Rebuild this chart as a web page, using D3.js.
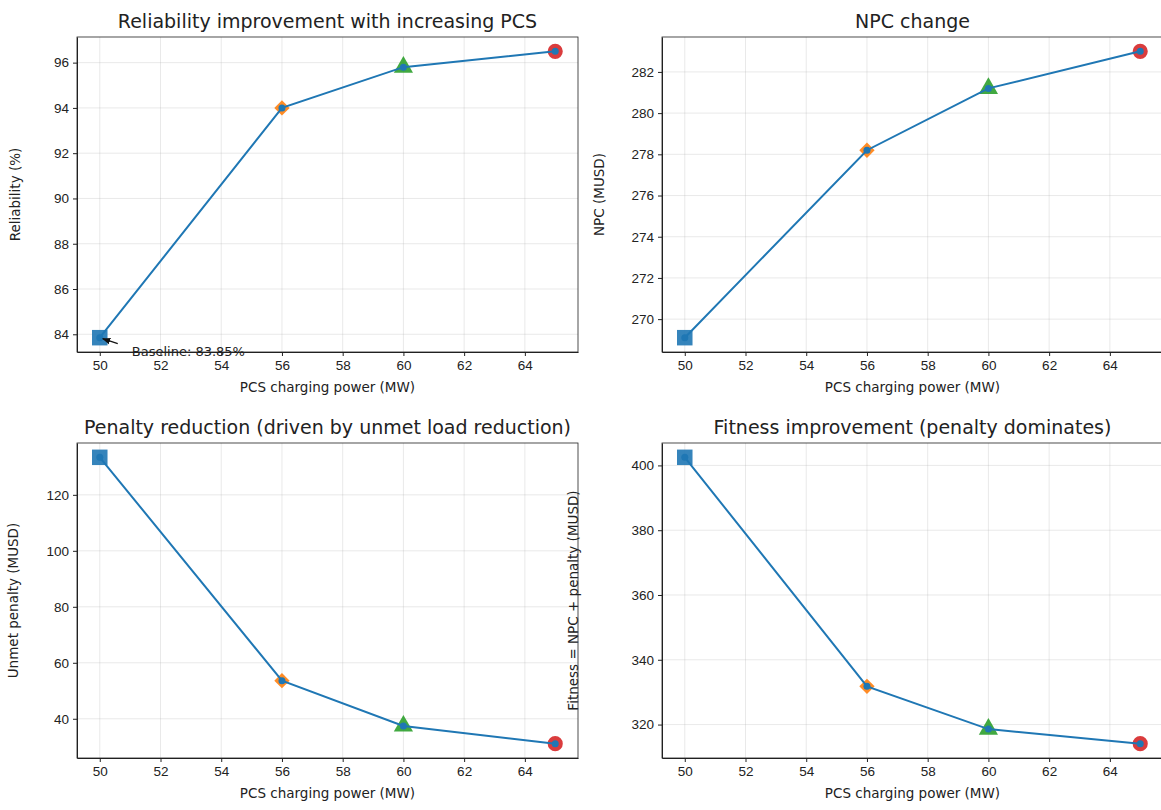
<!DOCTYPE html>
<html>
<head>
<meta charset="utf-8">
<script src="https://cdn.jsdelivr.net/npm/d3@7"></script>
<style>
  body { margin: 0; background: #fff; }
  svg { font-family: "DejaVu Sans", sans-serif; }
  .tick text { font-size: 13.5px; fill: #222; }
  .tick line { stroke: #222; }
  .domain { stroke: #222; }
</style>
</head>
<body>
<div id="chart"></div>
<script>
// PCS charging power levels and the four metrics
var pcsPower = [50, 56, 60, 65];
var reliability = [83.85, 94.0, 95.8, 96.5];
var npc = [269.1, 278.2, 281.2, 283.0];
var penalty = [133.4, 53.6, 37.4, 31.1];
var fitness = [402.5, 331.8, 318.6, 314.1];

var xTicks = [50, 52, 54, 56, 58, 60, 62, 64];
var markerShapes = ["square", "diamond", "triangle", "circle"];
var markerColors = ["#1f77b4", "#ff7f0e", "#2ca02c", "#d62728"];

var panels = [
  {title: "Reliability improvement with increasing PCS", ylabel: "Reliability (%)", values: reliability,
   yTicks: [84, 86, 88, 90, 92, 94, 96], box: {x: 77, y: 37}, yl: -57},
  {title: "NPC change", ylabel: "NPC (MUSD)", values: npc,
   yTicks: [270, 272, 274, 276, 278, 280, 282], box: {x: 662, y: 37}, yl: -58},
  {title: "Penalty reduction (driven by unmet load reduction)", ylabel: "Unmet penalty (MUSD)", values: penalty,
   yTicks: [40, 60, 80, 100, 120], box: {x: 77, y: 443}, yl: -59},
  {title: "Fitness improvement (penalty dominates)", ylabel: "Fitness = NPC + penalty (MUSD)", values: fitness,
   yTicks: [320, 340, 360, 380, 400], box: {x: 662, y: 443}, yl: -84}
];

var W = 1161, H = 810, pw = 501, ph = 315;

var svg = d3.select("#chart").append("svg")
  .attr("width", W).attr("height", H);

// matplotlib style 5% padding
function padded(ext) {
  var m = (ext[1] - ext[0]) * 0.05;
  return [ext[0] - m, ext[1] + m];
}

var symbolType = {square: d3.symbolSquare, diamond: d3.symbolDiamond2, triangle: d3.symbolTriangle, circle: d3.symbolCircle};
var symbolSize = {square: 240, diamond: 150, triangle: 160, circle: 180};

panels.forEach(function(p, pi) {
  var g = svg.append("g").attr("transform", "translate(" + p.box.x + "," + p.box.y + ")");

  var x = d3.scaleLinear().domain(padded(d3.extent(pcsPower))).range([0, pw]);
  var y = d3.scaleLinear().domain(padded(d3.extent(p.values))).range([ph, 0]);

  // grid
  g.append("g").selectAll("line.gx").data(xTicks).enter().append("line")
    .attr("x1", d => x(d)).attr("x2", d => x(d)).attr("y1", 0).attr("y2", ph)
    .attr("stroke", "#b0b0b0").attr("stroke-opacity", 0.35).attr("stroke-width", 0.8);
  g.append("g").selectAll("line.gy").data(p.yTicks).enter().append("line")
    .attr("y1", d => y(d)).attr("y2", d => y(d)).attr("x1", 0).attr("x2", pw)
    .attr("stroke", "#b0b0b0").attr("stroke-opacity", 0.35).attr("stroke-width", 0.8);

  // axes
  g.append("g").attr("transform", "translate(0," + ph + ")")
    .call(d3.axisBottom(x).tickValues(xTicks).tickSize(4).tickPadding(4).tickSizeOuter(0));
  g.append("g")
    .call(d3.axisLeft(y).tickValues(p.yTicks).tickSize(4).tickPadding(4).tickSizeOuter(0));
  g.append("rect").attr("width", pw).attr("height", ph)
    .attr("fill", "none").attr("stroke", "#222").attr("stroke-width", 0.8);

  // big coloured markers
  p.values.forEach(function(v, i) {
    g.append("path")
      .attr("d", d3.symbol().type(symbolType[markerShapes[i]]).size(symbolSize[markerShapes[i]]))
      .attr("transform", "translate(" + x(pcsPower[i]) + "," + y(v) + ")")
      .attr("fill", markerColors[i]).attr("fill-opacity", 0.9);
  });

  // line with small circle markers
  var line = d3.line().x((d, i) => x(pcsPower[i])).y(d => y(d));
  g.append("path").datum(p.values).attr("d", line)
    .attr("fill", "none").attr("stroke", "#1f77b4").attr("stroke-width", 2);
  g.selectAll("circle.pt").data(p.values).enter().append("circle")
    .attr("cx", (d, i) => x(pcsPower[i])).attr("cy", d => y(d)).attr("r", 3.5)
    .attr("fill", "#1f77b4");

  // titles
  g.append("text").attr("x", pw / 2).attr("y", -9).attr("text-anchor", "middle")
    .attr("font-size", 19).attr("fill", "#222").text(p.title);
  g.append("text").attr("x", pw / 2).attr("y", ph + 40).attr("text-anchor", "middle")
    .attr("font-size", 13.5).attr("fill", "#222").text("PCS charging power (MW)");
  g.append("text").attr("transform", "translate(" + p.yl + "," + (ph / 2) + ") rotate(-90)")
    .attr("text-anchor", "middle").attr("font-size", 13.5).attr("fill", "#222").text(p.ylabel);

  // baseline annotation on first panel
  if (pi === 0) {
    var px = x(pcsPower[0]), py = y(p.values[0]);
    var tx = px + 32, ty = py + 18;
    g.append("defs").append("marker").attr("id", "ah")
      .attr("viewBox", "0 0 10 10").attr("refX", 9).attr("refY", 5)
      .attr("markerWidth", 7).attr("markerHeight", 7).attr("orient", "auto")
      .append("path").attr("d", "M0,1 L10,5 L0,9 Z").attr("fill", "#111");
    g.append("line").attr("x1", tx - 14).attr("y1", py + 6).attr("x2", px + 3).attr("y2", py + 1)
      .attr("stroke", "#111").attr("stroke-width", 1.2).attr("marker-end", "url(#ah)");
    g.append("text").attr("x", tx).attr("y", ty).attr("font-size", 13).attr("fill", "#222")
      .text("Baseline: " + p.values[0].toFixed(2) + "%");
  }
});
</script>
</body>
</html>
